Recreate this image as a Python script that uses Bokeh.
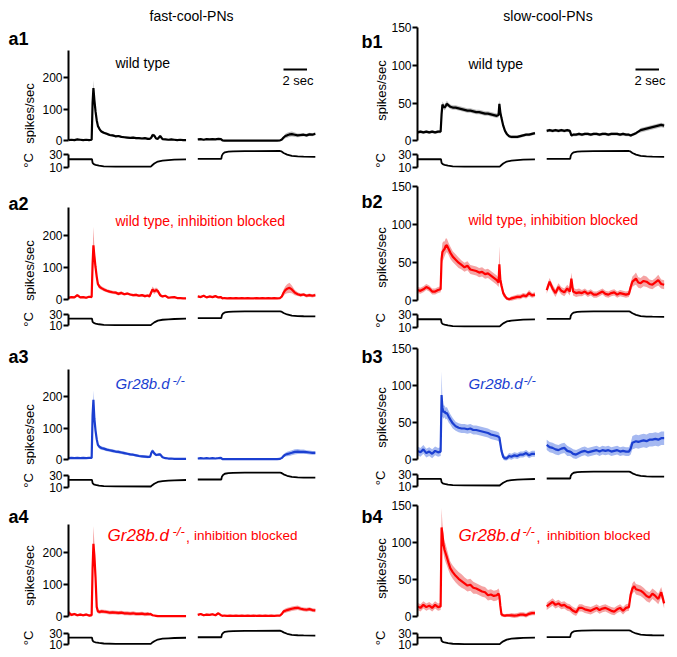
import numpy as np
from math import pi
from bokeh.plotting import figure
from bokeh.layouts import column, row
from bokeh.models import Label, FixedTicker, Range1d
from bokeh.embed import file_html
from bokeh.resources import INLINE

FONT = "Liberation Sans"

# ---------------- data ----------------
# time (s) within the cooling segment and within the warming segment
T1 = [0, 0.25, 0.5, 0.75, 1.0, 1.25, 1.5, 1.75, 1.97, 2.05, 2.12, 2.2, 2.3, 2.4, 2.5, 2.65, 2.8,
      3.0, 3.25, 3.5, 3.75, 4.0, 4.25, 4.5, 4.75, 5.0, 5.25, 5.5, 5.75, 6.0, 6.25, 6.5, 6.75,
      6.9, 6.97, 7.05, 7.15, 7.3, 7.45, 7.6, 7.8, 8.0, 8.25, 8.5, 8.75, 9.0, 9.25, 9.5, 9.75, 10.0]
T2 = [0, 0.25, 0.5, 0.75, 1.0, 1.25, 1.5, 1.75, 1.97, 2.1, 2.25, 2.5, 2.75,
      3.0, 3.25, 3.5, 3.75, 4.0, 4.25, 4.5, 4.75, 5.0, 5.25, 5.5, 5.75, 6.0, 6.25, 6.5, 6.75,
      7.0, 7.15, 7.3, 7.45, 7.6, 7.8, 8.0, 8.25, 8.5, 8.75, 9.0, 9.25, 9.5, 9.75, 10.0]

# temperature (°C)
TEMP_T = [0, 2.0, 2.05, 2.15, 2.3, 2.6, 3.0, 4.0, 7.0, 7.1, 7.3, 7.6, 8.0, 8.5, 9.0, 10.0]
TEMP_COOL = [22.5, 22.5, 17, 15, 14, 12.8, 11.8, 11.3, 11.2, 13, 16, 19, 20.5, 21.3, 21.8, 22.3]
TEMP_WARM = [23.2, 23.2, 28, 31, 33, 34, 34.5, 34.8, 35, 34.5, 32, 29.5, 27.5, 26.8, 26.5, 26.2]

# spikes/sec: mean and s.e.m. for cooling (1) and warming (2) segments
A1_M1 = [2, 3, 2, 4, 3, 2, 3, 2, 3, 120, 167, 130, 93, 65, 47, 36, 29,
         25, 22, 18, 17, 14, 15, 12, 11, 10, 9, 10, 8, 8, 7, 8, 6,
         6, 7, 10, 18, 16, 7, 6, 15, 5, 4, 3, 4, 3, 2, 3, 2, 2]
A1_S1 = [2, 2, 2, 2, 2, 2, 2, 2, 2, 15, 26, 15, 10, 8, 6, 5, 4,
         4, 4, 4, 4, 4, 3, 3, 3, 3, 3, 3, 3, 3, 3, 3, 3,
         3, 3, 4, 5, 5, 3, 3, 4, 2, 2, 2, 2, 2, 2, 2, 2, 2]
A1_M2 = [4, 5, 3, 5, 4, 5, 4, 6, 5, 1, 0.5, 0.5, 0.5,
         0.5, 0.5, 0.5, 0.5, 0.5, 0.5, 0.5, 0.5, 0.5, 0.5, 0.5, 0.5, 0.5, 0.5, 0.5, 0.5,
         1, 4, 10, 15, 17, 20, 21, 19, 17, 18, 19, 17, 20, 19, 22]
A1_S2 = [2, 2, 2, 2, 2, 2, 2, 2, 2, 1, 0.5, 0.5, 0.5,
         0.5, 0.5, 0.5, 0.5, 0.5, 0.5, 0.5, 0.5, 0.5, 0.5, 0.5, 0.5, 0.5, 0.5, 0.5, 0.5,
         1, 3, 5, 7, 8, 8, 8, 7, 6, 6, 5, 5, 5, 5, 5]

B1_M1 = [11, 12, 11, 12, 11, 12, 11, 12, 12, 35, 48, 46, 44, 46, 49, 47, 45,
         44, 44, 43, 42, 41, 40, 40, 39, 38, 38, 37, 36, 36, 35, 34, 33,
         34, 49, 38, 30, 20, 13, 9, 6, 5, 5, 5, 6, 7, 8, 8, 9, 10]
B1_S1 = [2, 2, 2, 2, 2, 2, 2, 2, 2, 4, 4, 4, 4, 4, 4, 3, 3,
         3, 3, 3, 3, 3, 3, 3, 3, 3, 3, 3, 3, 3, 3, 3, 3,
         3, 5, 4, 3, 3, 2, 2, 2, 2, 2, 2, 2, 2, 2, 2, 2, 2]
B1_M2 = [13, 14, 13, 14, 13, 14, 13, 14, 13, 7, 8, 8, 9,
         8, 9, 9, 8, 9, 9, 8, 9, 9, 8, 9, 9, 9, 8, 9, 8,
         8, 7, 8, 9, 10, 12, 14, 15, 16, 17, 18, 19, 20, 21, 20]
B1_S2 = [2, 2, 2, 2, 2, 2, 2, 2, 2, 2, 2, 2, 2,
         2, 2, 2, 2, 2, 2, 2, 2, 2, 2, 2, 2, 2, 2, 2, 2,
         2, 2, 2, 2, 2, 2, 3, 3, 3, 3, 3, 3, 3, 3, 3]

A2_M1 = [4, 6, 5, 12, 5, 6, 4, 7, 6, 110, 168, 135, 100, 70, 47, 38, 34,
         30, 26, 23, 21, 20, 16, 19, 15, 17, 14, 12, 13, 10, 12, 9, 11,
         8, 15, 22, 30, 24, 28, 25, 12, 8, 10, 4, 5, 6, 3, 3, 2, 2]
A2_S1 = [3, 3, 3, 4, 3, 3, 3, 3, 3, 30, 58, 30, 15, 10, 8, 7, 6,
         6, 5, 5, 5, 5, 5, 5, 4, 4, 4, 4, 4, 4, 4, 4, 4,
         4, 6, 8, 9, 8, 8, 7, 5, 3, 3, 2, 2, 2, 2, 2, 2, 2]
A2_M2 = [8, 6, 10, 5, 8, 6, 9, 5, 6, 2, 3, 2, 3,
         2, 3, 2, 3, 2, 3, 2, 2, 3, 2, 3, 2, 3, 2, 3, 2,
         3, 8, 20, 28, 32, 35, 30, 20, 15, 12, 14, 10, 12, 10, 12]
A2_S2 = [3, 3, 3, 3, 3, 3, 3, 3, 3, 1.5, 1.5, 1.5, 1.5,
         1.5, 1.5, 1.5, 1.5, 1.5, 1.5, 1.5, 1.5, 1.5, 1.5, 1.5, 1.5, 1.5, 1.5, 1.5, 1.5,
         2, 5, 10, 12, 14, 16, 12, 8, 6, 5, 5, 5, 5, 5, 5]

B2_M1 = [14, 13, 15, 18, 16, 12, 12, 14, 15, 55, 64, 66, 68, 72, 73, 68, 63,
         58, 54, 50, 47, 44, 46, 41, 40, 39, 37, 38, 35, 36, 33, 30, 27,
         24, 48, 28, 20, 10, 6, 3, 2, 3, 4, 5, 5, 7, 6, 10, 7, 8]
B2_S1 = [4, 4, 4, 4, 4, 4, 4, 4, 4, 10, 12, 12, 10, 10, 9, 8, 8,
         7, 7, 7, 6, 6, 6, 6, 6, 6, 6, 6, 6, 6, 6, 6, 6,
         6, 24, 8, 6, 4, 3, 2, 2, 3, 3, 3, 3, 3, 3, 4, 3, 3]
B2_M2 = [14, 25, 16, 10, 18, 13, 11, 16, 12, 29, 12, 10, 11,
         10, 12, 9, 11, 8, 8, 10, 12, 9, 8, 10, 11, 8, 10, 9, 8,
         9, 18, 25, 27, 29, 24, 23, 26, 25, 22, 21, 24, 27, 22, 21]
B2_S2 = [5, 5, 5, 5, 5, 5, 5, 5, 5, 8, 5, 5, 5,
         4, 4, 4, 4, 4, 4, 4, 4, 4, 4, 4, 4, 4, 4, 4, 4,
         4, 6, 7, 7, 8, 7, 7, 7, 7, 6, 6, 6, 7, 6, 6]

A3_M1 = [5, 6, 5, 6, 5, 6, 5, 6, 6, 140, 189, 130, 92, 65, 47, 40, 37,
         35, 32, 30, 28, 26, 25, 23, 21, 19, 17, 16, 14, 12, 11, 10, 9,
         9, 12, 22, 28, 20, 15, 16, 17, 8, 5, 4, 4, 3, 3, 3, 3, 3]
A3_S1 = [2, 2, 2, 2, 2, 2, 2, 2, 2, 15, 30, 15, 10, 8, 6, 6, 6,
         5, 5, 5, 5, 5, 5, 5, 5, 4, 4, 4, 4, 4, 4, 4, 4,
         3, 4, 5, 6, 5, 4, 4, 4, 2, 2, 2, 2, 2, 2, 2, 2, 2]
A3_M2 = [4, 5, 4, 5, 4, 5, 4, 5, 6, 2, 2, 2, 2,
         2, 2, 2, 2, 2, 2, 2, 2, 2, 2, 2, 2, 2, 2, 2, 2,
         3, 6, 12, 16, 18, 20, 22, 25, 26, 25, 25, 24, 23, 22, 22]
A3_S2 = [2, 2, 2, 2, 2, 2, 2, 2, 2, 1, 1, 1, 1,
         1, 1, 1, 1, 1, 1, 1, 1, 1, 1, 1, 1, 1, 1, 1, 1,
         1, 3, 5, 6, 7, 8, 8, 8, 8, 7, 7, 6, 6, 6, 6]

B3_M1 = [12, 10, 14, 9, 11, 8, 12, 10, 11, 87, 70, 64, 65, 62, 63, 58, 54,
         49, 45, 43, 42, 42, 41, 42, 40, 40, 39, 38, 37, 36, 34, 33, 32,
         31, 30, 22, 12, 4, 2, 2, 5, 4, 6, 5, 7, 7, 9, 6, 8, 8]
B3_S1 = [6, 6, 6, 6, 6, 6, 6, 6, 6, 32, 12, 9, 8, 8, 8, 8, 7,
         7, 6, 6, 6, 6, 6, 6, 6, 6, 6, 6, 6, 6, 6, 6, 6,
         6, 6, 6, 5, 4, 3, 3, 4, 4, 4, 4, 4, 4, 4, 4, 4, 4]
B3_M2 = [20, 17, 16, 14, 13, 15, 16, 12, 11, 10, 8, 7, 9,
         11, 12, 10, 11, 12, 13, 11, 13, 12, 13, 11, 12, 13, 11, 12, 11,
         11, 15, 23, 24, 25, 24, 25, 26, 25, 27, 27, 28, 27, 29, 29]
B3_S2 = [7, 7, 7, 7, 7, 7, 7, 7, 6, 6, 6, 6, 6,
         6, 6, 6, 6, 6, 6, 6, 6, 6, 6, 6, 6, 6, 6, 6, 6,
         6, 8, 9, 9, 9, 9, 9, 9, 9, 9, 9, 9, 9, 9, 9]

A4_M1 = [12, 5, 8, 4, 6, 4, 6, 3, 4, 150, 226, 190, 122, 30, 16, 14, 16,
         15, 14, 12, 13, 12, 11, 12, 10, 10, 9, 10, 8, 8, 9, 7, 8,
         7, 8, 6, 4, 3, 2, 1, 1, 1, 1, 1, 1, 1, 1, 1, 1, 1]
A4_S1 = [10, 4, 4, 4, 4, 4, 4, 4, 4, 30, 55, 40, 30, 10, 6, 6, 6,
         6, 6, 6, 6, 6, 6, 6, 6, 6, 6, 6, 6, 6, 6, 6, 6,
         5, 5, 4, 3, 2, 2, 1, 1, 1, 1, 1, 1, 1, 1, 1, 1, 1]
A4_M2 = [5, 8, 4, 6, 5, 7, 4, 10, 4, 2, 3, 2, 3,
         2, 3, 2, 3, 2, 3, 2, 3, 2, 3, 2, 3, 2, 3, 2, 3,
         3, 8, 16, 18, 20, 22, 24, 26, 27, 24, 22, 21, 23, 20, 19]
A4_S2 = [3, 3, 3, 3, 3, 3, 3, 3, 3, 1.5, 1.5, 1.5, 1.5,
         1.5, 1.5, 1.5, 1.5, 1.5, 1.5, 1.5, 1.5, 1.5, 1.5, 1.5, 1.5, 1.5, 1.5, 1.5, 1.5,
         2, 4, 6, 7, 7, 7, 7, 7, 7, 6, 6, 6, 6, 6, 6]

B4_M1 = [14, 12, 16, 13, 15, 12, 16, 13, 14, 120, 112, 98, 90, 85, 80, 72, 65,
         60, 55, 51, 48, 45, 42, 43, 39, 38, 36, 34, 33, 29, 30, 28, 29,
         31, 28, 15, 3, 2, 1.5, 2, 2, 2, 1.5, 2, 3, 3, 2, 4, 5, 5]
B4_S1 = [5, 5, 5, 5, 5, 5, 5, 5, 5, 26, 14, 12, 12, 12, 11, 10, 9,
         9, 9, 9, 9, 8, 8, 8, 8, 7, 7, 7, 7, 7, 7, 7, 7,
         7, 7, 5, 3, 2, 2, 2, 2, 3, 3, 3, 3, 3, 3, 3, 3, 3]
B4_M2 = [14, 17, 20, 16, 18, 15, 16, 13, 12, 10, 8, 6, 12,
         12, 10, 9, 8, 10, 12, 9, 11, 12, 10, 8, 7, 10, 12, 8, 12,
         13, 30, 38, 41, 37, 36, 35, 32, 28, 26, 31, 28, 24, 33, 18]
B4_S2 = [5, 5, 5, 5, 5, 5, 5, 5, 5, 5, 5, 5, 5,
         5, 5, 5, 5, 5, 5, 5, 5, 5, 5, 5, 5, 5, 5, 5, 5,
         5, 6, 7, 7, 7, 7, 7, 7, 7, 7, 7, 7, 7, 7, 7]

COLUMN_TITLES = {"a": "fast-cool-PNs", "b": "slow-cool-PNs"}
SPIKE_TICKS = {"a": [0, 100, 200], "b": [0, 50, 100, 150]}
TEMP_TICKS = [10, 30]
SEG2_START = 11.0   # gap between the two recordings (s)
SCALE_BAR_SEC = 2

# ---------------- styling / layout (screen pixels) ----------------
BLACK = ("#000000", "#bcbcbc")
RED = ("#ff0000", "#f5a3a3")
BLUE = ("#1b3fd1", "#a6b9f1")

COLS = {
    "a": dict(tleft=0, tw=36, left=36, width=304, fl=68, fr=316, xmax=21.1, bounds=(0, 285),
              plab_x=8, ylab_x=29, title_x=191, bar_x=283),
    "b": dict(tleft=340, tw=48, left=388, width=289, fl=417, fr=666, xmax=21.2, bounds=(0, 150),
              plab_x=361, ylab_x=381, title_x=547.5, bar_x=635),
}
FB = [147, 307, 466, 623]     # spike figure bottom / temp figure top
TB = [177, 336, 495, 651]     # temp figure bottom
ZERO = {"a": [140.2, 298.5, 459.3, 616], "b": [140.2, 300.2, 459.3, 616.3]}
PXU = {"a": [0.315, 0.32, 0.318, 0.3217], "b": [0.753, 0.76, 0.745, 0.745]}
Y30 = {"a": [153.8, 313.7, 475, 633], "b": [153.8, 314, 474, 632.7]}
Y10 = {"a": [167, 325.4, 486.7, 644], "b": [167, 326.7, 485.7, 644.3]}
PLAB_Y = {"a": [38.5, 203, 356.5, 516.7], "b": [41, 201, 356.7, 516.7]}
YLAB_Y = {"a": [113, 270, 434, 575], "b": [90, 257, 417, 568]}
DEG_Y = {"a": [160, 319, 480, 637.5], "b": [160, 320, 477.5, 637.5]}

PANELS = [
    ("a", 0, "a1", BLACK, (A1_M1, A1_S1, A1_M2, A1_S2),
     [("wild type", 115, 62, 14, "normal", "left")]),
    ("b", 0, "b1", BLACK, (B1_M1, B1_S1, B1_M2, B1_S2),
     [("wild type", 468, 63, 14, "normal", "left")]),
    ("a", 1, "a2", RED, (A2_M1, A2_S1, A2_M2, A2_S2),
     [("wild type, inhibition blocked", 115, 220, 14, "normal", "left")]),
    ("b", 1, "b2", RED, (B2_M1, B2_S1, B2_M2, B2_S2),
     [("wild type, inhibition blocked", 468, 219, 14, "normal", "left")]),
    ("a", 2, "a3", BLUE, (A3_M1, A3_S1, A3_M2, A3_S2),
     [("Gr28b.d", 115, 383, 15, "italic", "left"), ("-/-", 172, 379.5, 13, "italic", "left")]),
    ("b", 2, "b3", BLUE, (B3_M1, B3_S1, B3_M2, B3_S2),
     [("Gr28b.d", 468, 383, 15, "italic", "left"), ("-/-", 523, 379.5, 13, "italic", "left")]),
    ("a", 3, "a4", RED, (A4_M1, A4_S1, A4_M2, A4_S2),
     [("Gr28b.d", 107, 535, 17, "italic", "left"), ("-/-", 172, 531, 13, "italic", "left"),
      (",", 185.5, 536, 14, "normal", "left"), ("inhibition blocked", 297, 535, 13.5, "normal", "right")]),
    ("b", 3, "b4", RED, (B4_M1, B4_S1, B4_M2, B4_S2),
     [("Gr28b.d", 458, 535, 17, "italic", "left"), ("-/-", 522, 531, 13, "italic", "left"),
      (",", 536, 536, 14, "normal", "left"), ("inhibition blocked", 650, 535, 13.5, "normal", "right")]),
]


def style_fig(p):
    p.grid.visible = False
    p.outline_line_color = None
    p.background_fill_color = "white"
    p.border_fill_color = "white"


def style_axis(ax, ticks, bounds):
    ax.ticker = FixedTicker(ticks=ticks)
    ax.bounds = bounds
    ax.axis_line_width = 2
    ax.axis_line_color = "black"
    ax.major_tick_line_width = 2
    ax.major_tick_line_color = "black"
    ax.major_tick_out = 5
    ax.major_tick_in = 0
    ax.minor_tick_line_color = None
    ax.major_label_text_font = FONT
    ax.major_label_text_font_size = "12px"
    ax.major_label_text_color = "black"
    ax.major_label_standoff = 1


def add_label(p, x, y, text, size, color="black", style="normal", align="left", angle=0):
    p.add_layout(Label(x=x, y=y, text=text, text_font=FONT, text_font_size=f"{size}px",
                       text_font_style=style, text_color=color, text_align=align,
                       text_baseline="middle", angle=angle))


def top_of(r):
    return 0 if r == 0 else TB[r - 1]


def spike_fig(c, r, colors, series, texts):
    C = COLS[c]
    top = top_of(r)
    z, s = ZERO[c][r], PXU[c][r]
    k = (C["fr"] - C["fl"]) / C["xmax"]
    y0, y1 = -(FB[r] - z) / s, (z - top) / s
    p = figure(width=C["width"], height=FB[r] - top, title=None,
               x_range=Range1d(0, C["xmax"]), y_range=Range1d(y0, y1),
               x_axis_location=None, output_backend="svg", toolbar_location=None,
               min_border_left=C["fl"] - C["left"], min_border_right=C["left"] + C["width"] - C["fr"],
               min_border_top=0, min_border_bottom=0)
    style_fig(p)
    style_axis(p.yaxis[0], SPIKE_TICKS[c], C["bounds"])

    def sx(x):
        return (x - C["fl"]) / k

    def sy(y):
        return (z - y) / s

    m1, s1, m2, s2 = [np.array(v, dtype=float) for v in series]
    t1 = np.array(T1, dtype=float)
    t2 = np.array(T2, dtype=float) + SEG2_START
    line_c, band_c = colors
    for t, m, e in ((t1, m1, s1), (t2, m2, s2)):
        p.varea(x=t, y1=m - e, y2=m + e, fill_color=band_c, fill_alpha=1.0)
        p.line(x=t, y=m, line_color=line_c, line_width=2.2)

    for (txt, x, y, size, style, align) in texts:
        add_label(p, sx(x), sy(y), txt, size, color=line_c, style=style, align=align)
    if r == 0:
        add_label(p, sx(C["title_x"]), sy(15), COLUMN_TITLES[c], 14, align="center")
        bx = C["bar_x"]
        p.segment(x0=[sx(bx)], y0=[sy(69)], x1=[sx(bx) + SCALE_BAR_SEC], y1=[sy(69)],
                  line_color="black", line_width=2)
        add_label(p, sx(bx - 1), sy(80), f"{SCALE_BAR_SEC} sec", 13)
    return p


def temp_fig(c, r):
    C = COLS[c]
    a30, a10 = Y30[c][r], Y10[c][r]
    sT = (a10 - a30) / 20.0
    y1 = 30 + (a30 - FB[r]) / sT
    y0 = 10 - (TB[r] - a10) / sT
    p = figure(width=C["width"], height=TB[r] - FB[r], title=None,
               x_range=Range1d(0, C["xmax"]), y_range=Range1d(y0, y1),
               x_axis_location=None, output_backend="svg", toolbar_location=None,
               min_border_left=C["fl"] - C["left"], min_border_right=C["left"] + C["width"] - C["fr"],
               min_border_top=0, min_border_bottom=0)
    style_fig(p)
    style_axis(p.yaxis[0], TEMP_TICKS, (10, 30))
    tt = np.array(TEMP_T, dtype=float)
    p.line(x=tt, y=TEMP_COOL, line_color="black", line_width=1.8)
    p.line(x=tt + SEG2_START, y=TEMP_WARM, line_color="black", line_width=1.8)
    return p


def text_fig(c, r, name):
    # a blank strip left of the axes that carries the panel letter and the axis titles
    C = COLS[c]
    top = top_of(r)
    p = figure(width=C["tw"], height=TB[r] - top, title=None,
               x_range=Range1d(C["tleft"], C["tleft"] + C["tw"]), y_range=Range1d(TB[r], top),
               x_axis_location=None, y_axis_location=None, output_backend="svg",
               toolbar_location=None, min_border_left=0, min_border_right=0,
               min_border_top=0, min_border_bottom=0)
    style_fig(p)
    add_label(p, C["plab_x"], PLAB_Y[c][r], name, 18, style="bold")
    add_label(p, C["ylab_x"], YLAB_Y[c][r], "spikes/sec", 13, align="center", angle=pi / 2)
    add_label(p, C["ylab_x"] - 1, DEG_Y[c][r], "°C", 13, align="center", angle=pi / 2)
    return p


rows = []
for r in range(4):
    parts = []
    for (c, rr, name, colors, series, texts) in PANELS:
        if rr != r:
            continue
        parts.append(text_fig(c, r, name))
        parts.append(column(spike_fig(c, r, colors, series, texts), temp_fig(c, r)))
    rows.append(row(*parts))

layout = column(*rows)
open("out.html", "w").write(file_html(layout, INLINE))
